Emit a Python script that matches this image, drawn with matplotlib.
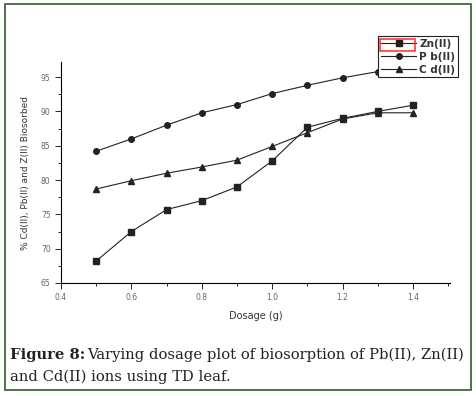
import matplotlib.pyplot as plt
from matplotlib.patches import Rectangle
from matplotlib.ticker import MultipleLocator

# dosage (g)
dosage = [0.5, 0.6, 0.7, 0.8, 0.9, 1.0, 1.1, 1.2, 1.3, 1.4]
# % biosorbed
zn = [68.2, 72.5, 75.7, 77.0, 79.0, 82.8, 87.7, 89.0, 90.0, 90.9]
pb = [84.2, 86.0, 88.0, 89.8, 91.0, 92.6, 93.8, 94.9, 95.8, 96.5]
cd = [78.7, 79.9, 81.0, 81.9, 82.9, 84.9, 86.9, 88.9, 89.8, 89.8]

fig = plt.figure(figsize=(4.76, 3.96), dpi=100)
ax = fig.add_axes([61/476, 1 - 283/396, (450-61)/476, (283-62)/396])

kw = dict(color='#222222', lw=0.8)
ax.plot(dosage, zn, marker='s', ms=4.5, label='Zn(II)', **kw)
ax.plot(dosage, pb, marker='o', ms=4, label='P b(II)', **kw)
ax.plot(dosage, cd, marker='^', ms=5, label='C d(II)', **kw)

ax.set_xlim(0.4, 1.505)
ax.set_ylim(65, 97.2)
ax.xaxis.set_major_locator(MultipleLocator(0.2))
ax.xaxis.set_minor_locator(MultipleLocator(0.1))
ax.yaxis.set_major_locator(MultipleLocator(5))
ax.yaxis.set_minor_locator(MultipleLocator(2.5))
ax.spines['top'].set_visible(False)
ax.spines['right'].set_visible(False)
for s in ('left', 'bottom'):
    ax.spines[s].set_linewidth(0.8)
ax.tick_params(which='both', direction='out', width=0.7, colors='#222222',
               labelcolor='#666666', labelsize=5.5)
ax.tick_params(which='major', length=4)
ax.tick_params(which='minor', length=2.5)
ax.set_xticklabels(['%.1f' % v for v in ax.get_xticks()])

ax.set_xlabel('Dosage (g)', fontsize=7, color='#333333', labelpad=6)
ax.set_ylabel('% Cd(II), Pb(II) and Z(II) Biosorbed', fontsize=6.5, color='#333333', labelpad=8)

leg = ax.legend(loc='upper right', bbox_to_anchor=(458/476, 1 - 36/396),
                bbox_transform=fig.transFigure, fontsize=7.5, frameon=True,
                fancybox=False, framealpha=1, edgecolor='#222222', handlelength=3.4,
                borderpad=0.25, labelspacing=0.3, handletextpad=0.3,
                borderaxespad=0)
leg.get_frame().set_linewidth(0.8)
leg.set_zorder(5)
for t in leg.get_texts():
    t.set_color('#333333')
    t.set_fontweight('bold')

# red box round the first legend handle, on top of the legend
red = Rectangle((380/476, 1 - 51/396), 35/476, 12/396,
                transform=fig.transFigure, fill=False,
                edgecolor='#ff2a2a', lw=1.1, zorder=10, clip_on=False)
ax.add_artist(red)

# green frame
fig.patches.append(Rectangle((5/476, 1 - 390/396), 466/476, 386/396,
                             transform=fig.transFigure, fill=False,
                             edgecolor='#3b6a34', lw=1.3))

fig.text(10/476, 1 - 355/396, 'Figure 8:', fontsize=10.6, fontweight='bold',
         family='DejaVu Serif', va='center', color='#222222')
fig.text(87/476, 1 - 355/396, 'Varying dosage plot of biosorption of Pb(II), Zn(II)',
         fontsize=10.6, family='DejaVu Serif', va='center', color='#222222')
fig.text(10/476, 1 - 377/396, 'and Cd(II) ions using TD leaf.',
         fontsize=10.6, family='DejaVu Serif', va='center', color='#222222')

fig.savefig('out.png', dpi=100)
